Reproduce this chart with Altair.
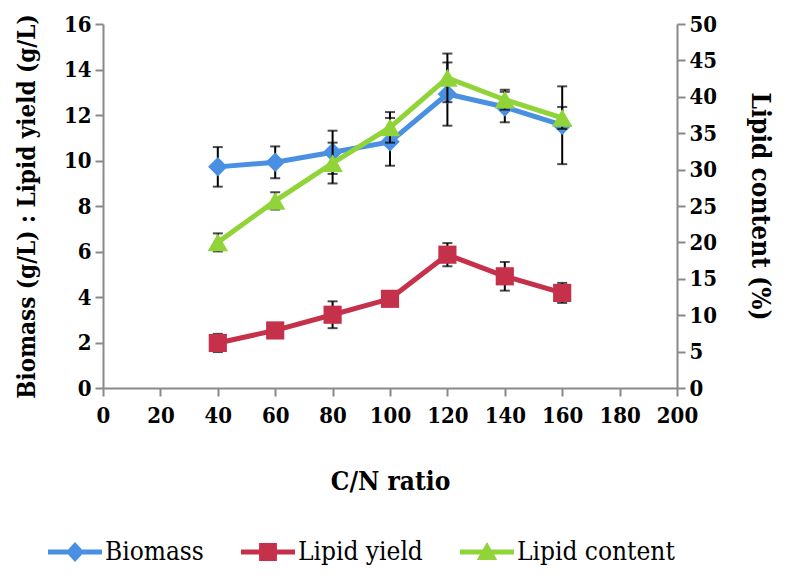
import altair as alt
import pandas as pd

# ---- data ----
cn_ratio = [40, 60, 80, 100, 120, 140, 160]
biomass = [9.72, 9.92, 10.36, 10.82, 12.92, 12.35, 11.55]
biomass_err = [0.87, 0.70, 0.95, 1.05, 1.39, 0.67, 1.71]
lipid_yield = [1.98, 2.53, 3.22, 3.92, 5.86, 4.91, 4.18]
lipid_yield_err = [0.40, 0.25, 0.59, 0.25, 0.51, 0.63, 0.44]
lipid_content = [20.0, 25.7, 30.9, 35.8, 42.6, 39.6, 37.1]
lipid_content_err = [1.24, 1.19, 2.80, 2.10, 3.34, 1.37, 1.51]

series_names = ["Biomass", "Lipid yield", "Lipid content"]
x_ticks = [0, 20, 40, 60, 80, 100, 120, 140, 160, 180, 200]
left_ticks = [0, 2, 4, 6, 8, 10, 12, 14, 16]
right_ticks = [0, 5, 10, 15, 20, 25, 30, 35, 40, 45, 50]

# ---- styles ----
FONT = "DejaVu Serif Condensed"
colors = ["#4a90e2", "#c5304a", "#90d43a"]
shapes = ["diamond", "square", "triangle-up"]
sizes = [380, 330, 420]
BAR = "M-1,-0.093L1,-0.093L1,0.093L-1,0.093Z"
legend_paths = [
    BAR + "M0,-0.37L0.34,0L0,0.37L-0.34,0Z",
    BAR + "M-0.33,-0.33L0.33,-0.33L0.33,0.33L-0.33,0.33Z",
    BAR + "M0,-0.37L0.38,0.3L-0.38,0.3Z",
]
GREY = "#898989"


def frame(vals, errs):
    return pd.DataFrame({"x": cn_ratio, "y": vals, "err": errs})


x_scale = alt.Scale(domain=[0, 200], nice=False, zero=False)
x_axis = alt.Axis(values=x_ticks, title="C/N ratio", labelFlush=False,
                  labelOverlap=False, labelPadding=9, titlePadding=42)
left_scale = alt.Scale(domain=[0, 16], nice=False)
left_axis = alt.Axis(orient="left", values=left_ticks,
                     title="Biomass (g/L) : Lipid yield (g/L)",
                     labelOverlap=False, titlePadding=24, titleFontSize=24)
right_scale = alt.Scale(domain=[0, 50], nice=False)
right_axis = alt.Axis(orient="right", values=right_ticks,
                      title="Lipid content (%)", labelOverlap=False,
                      titlePadding=30)


def err_layers(df, yscale, yaxis):
    X = alt.X("x:Q", scale=x_scale, axis=x_axis)
    base = alt.Chart(df).transform_calculate(
        lo="datum.y - datum.err", hi="datum.y + datum.err")
    rule = base.mark_rule(color="black", strokeWidth=2).encode(
        x=X, y=alt.Y("lo:Q", scale=yscale, axis=yaxis), y2="hi:Q")
    cap_lo = base.mark_tick(color="black", orient="horizontal", size=10,
                            thickness=2).encode(
        x=X, y=alt.Y("lo:Q", scale=yscale, axis=yaxis))
    cap_hi = base.mark_tick(color="black", orient="horizontal", size=10,
                            thickness=2).encode(
        x=X, y=alt.Y("hi:Q", scale=yscale, axis=yaxis))
    return [rule, cap_lo, cap_hi]


def series_layers(df, i, yscale, yaxis):
    X = alt.X("x:Q", scale=x_scale, axis=x_axis)
    Y = alt.Y("y:Q", scale=yscale, axis=yaxis)
    base = alt.Chart(df)
    line = base.mark_line(color=colors[i], strokeWidth=5).encode(x=X, y=Y)
    pts = base.mark_point(shape=shapes[i], filled=True, size=sizes[i],
                          color=colors[i], opacity=1).encode(x=X, y=Y)
    return [line, pts]


df_b = frame(biomass, biomass_err)
df_l = frame(lipid_yield, lipid_yield_err)
df_c = frame(lipid_content, lipid_content_err)

legend_df = pd.DataFrame({"series": series_names})
legend_layer = alt.Chart(legend_df).mark_point(filled=True, opacity=0).encode(
    x=alt.value(0), y=alt.value(0),
    color=alt.Color("series:N", scale=alt.Scale(domain=series_names, range=colors),
                    legend=alt.Legend(title=None)),
    shape=alt.Shape("series:N", scale=alt.Scale(domain=series_names, range=legend_paths),
                    legend=alt.Legend(title=None)),
)

left = alt.layer(
    *err_layers(df_b, left_scale, left_axis),
    *err_layers(df_l, left_scale, left_axis),
    *series_layers(df_b, 0, left_scale, left_axis),
    *series_layers(df_l, 1, left_scale, left_axis),
    legend_layer,
)
right = alt.layer(
    *err_layers(df_c, right_scale, right_axis),
    *series_layers(df_c, 2, right_scale, right_axis),
)

chart = alt.layer(left, right).resolve_scale(y="independent").properties(
    width=574, height=364,
    autosize=alt.AutoSizeParams(type="none"),
    padding={"left": 95, "top": 16, "right": 101, "bottom": 181},
).configure_view(stroke=None).configure_axis(
    domainColor=GREY, domainWidth=2, tickColor=GREY, tickWidth=2, tickSize=8,
    grid=False, labelFont=FONT, labelFontSize=22, labelFontWeight="bold",
    labelColor="black", labelPadding=4,
    titleFont=FONT, titleFontSize=26, titleFontWeight="bold",
    titleColor="black",
).configure_legend(
    orient="none", legendX=-55, legendY=501, direction="horizontal",
    symbolSize=2916, symbolStrokeWidth=0, symbolOpacity=1,
    labelFont=FONT, labelFontSize=26, labelColor="black",
    labelOffset=3, columnPadding=37, padding=0,
)

chart.save("out.html", embed_options={"renderer": "svg", "actions": False})
